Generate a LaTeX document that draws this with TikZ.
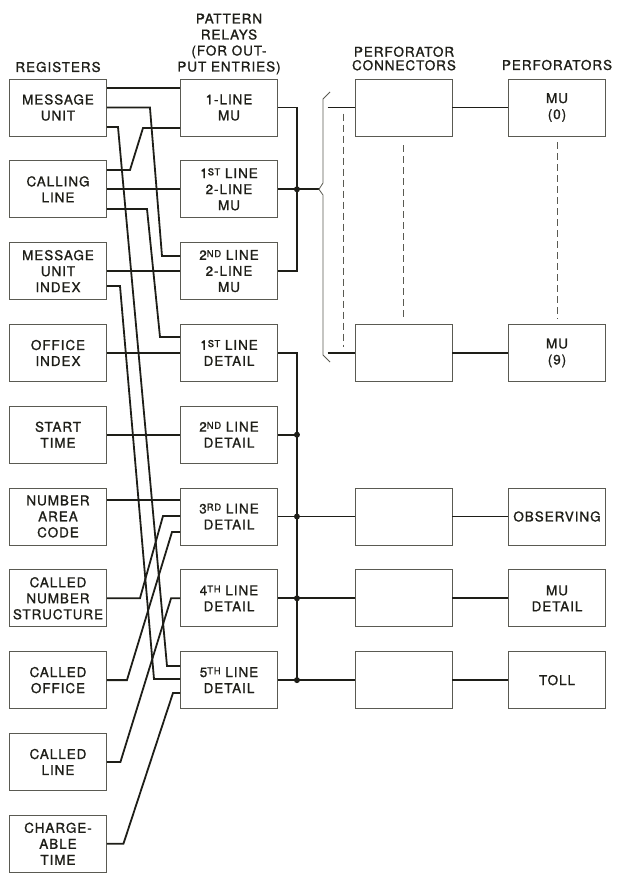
\documentclass[tikz,border=0pt]{standalone}
\usepackage{fontspec}
\setmainfont{TeX Gyre Heros}[LetterSpace=7,FakeBold=1.2]
\usetikzlibrary{arrows,positioning}
\definecolor{ink}{RGB}{30,30,24}
\definecolor{edge}{RGB}{90,90,82}
\tikzstyle{box}=[draw=edge,line width=0.9pt,minimum width=97pt,minimum height=57pt,inner sep=1pt,align=center,text=ink,font=\fontsize{13.5}{16}\selectfont]
\tikzstyle{head}=[align=center,inner sep=0pt,text=ink,font=\fontsize{13.5}{16}\selectfont]
\tikzstyle{wire}=[draw=ink,line width=1.8pt]
\tikzstyle{braceline}=[draw=edge,line width=0.8pt]
\tikzstyle{dashline}=[draw=edge,line width=0.8pt,dash pattern=on 7pt off 4pt]
\tikzstyle{dot}=[circle,fill=ink,inner sep=0pt,minimum size=6pt]
\newcommand{\ordsup}[1]{\raisebox{2.8pt}{\fontsize{9.5}{9.5}\selectfont #1}}

\begin{document}
\begin{tikzpicture}[x=1pt,y=-1pt,node distance=81.8pt]
    \useasboundingbox (0,0) rectangle (619,873);

    \node[box] (R1)                 at (58,107.5) {MESSAGE\\UNIT};
    \node[box] (R2)  [below of=R1]  {CALLING\\LINE};
    \node[box] (R3)  [below of=R2]  {MESSAGE\\UNIT\\INDEX};
    \node[box] (R4)  [below of=R3]  {OFFICE\\INDEX};
    \node[box] (R5)  [below of=R4]  {START\\TIME};
    \node[box] (R6)  [below of=R5]  {NUMBER\\AREA\\CODE};
    \node[box] (R7)  [below of=R6]  {CALLED\\NUMBER\\STRUCTURE};
    \node[box] (R8)  [below of=R7]  {CALLED\\OFFICE};
    \node[box] (R9)  [below of=R8]  {CALLED\\LINE};
    \node[box] (R10) [below of=R9]  {CHARGE-\\ABLE\\TIME};

    \begin{scope}[node distance=171pt]
    \node[box] (P1) [right of=R1] {1-LINE\\MU};
    \node[box] (P2) [right of=R2] {1\ordsup{ST} LINE\\2-LINE\\MU};
    \node[box] (P3) [right of=R3] {2\ordsup{ND} LINE\\2-LINE\\MU};
    \node[box] (P4) [right of=R4] {1\ordsup{ST} LINE\\DETAIL};
    \node[box] (P5) [right of=R5] {2\ordsup{ND} LINE\\DETAIL};
    \node[box] (P6) [right of=R6] {3\ordsup{RD} LINE\\DETAIL};
    \node[box] (P7) [right of=R7] {4\ordsup{TH} LINE\\DETAIL};
    \node[box] (P8) [right of=R8] {5\ordsup{TH} LINE\\DETAIL};
    \end{scope}

    \begin{scope}[node distance=174.5pt]
    \node[box] (C1) [right of=P1] {};
    \node[box] (C4) [right of=P4] {};
    \node[box] (C6) [right of=P6] {};
    \node[box] (C7) [right of=P7] {};
    \node[box] (C8) [right of=P8] {};
    \end{scope}

    \begin{scope}[node distance=153.5pt]
    \node[box] (F1) [right of=C1] {MU\\(0)};
    \node[box] (F4) [right of=C4] {MU\\(9)};
    \node[box] (F6) [right of=C6] {OBSERVING};
    \node[box] (F7) [right of=C7] {MU\\DETAIL};
    \node[box] (F8) [right of=C8] {TOLL};
    \end{scope}

    \node[head] (hR) at (58,67) {REGISTERS};
    \node[head] (hP) at (229,44) {PATTERN\\RELAYS\\(FOR OUT-\\PUT ENTRIES)};
    \node[head,font=\fontsize{13.5}{13.5}\selectfont] (hC) at (404,58.5) {PERFORATOR\\CONNECTORS};
    \node[head] (hF) at (557,65) {PERFORATORS};

    % registers to pattern relays
    \draw[wire] (R1.east |- 0,88) -- (P1.west |- 0,88);
    \draw[wire] (R2.east |- 0,170) -- (130,170) -- (143,128) -- (P1.west |- 0,128);
    \draw[wire] (R1.east) -- ++(43,0) -- (162,256) -- (P3.west |- 0,256);
    \draw[wire] (R2.east) -- (P2.west);
    \draw[wire] (R2.east |- 0,209) -- (147,209) -- (160,337) -- (P4.west |- 0,337);
    \draw[wire] (R1.east |- 0,127) -- (118,127) -- (167,666) -- (P8.west |- 0,666);
    \draw[wire] (R3.east) -- (P3.west);
    \draw[wire] (R3.east |- 0,286) -- (120,286) -- (154,679) -- (P8.west |- 0,679);
    \draw[wire] (R4.east) -- (P4.west);
    \draw[wire] (R5.east) -- (P5.west);
    \draw[wire] (R6.east |- 0,500) -- (P6.west |- 0,500);
    \draw[wire] (R7.east) -- ++(33,0) -- (163,516) -- (P6.west |- 0,516);
    \draw[wire] (R8.east) -- ++(20,0) -- (172,532) -- (P6.west |- 0,532);
    \draw[wire] (R9.east) -- ++(13.5,0) -- ([xshift=-9pt]P7.west) -- (P7.west);
    \draw[wire] (R10.east) -- ++(16.5,0) -- (173,693) -- (P8.west |- 0,693);

    % pattern relays to connectors
    \coordinate (bus) at ([xshift=19pt]P1.east);
    \coordinate (tip) at ([xshift=41pt]P2.east);
    \draw[wire] (P1.east) -| (bus |- P3.east) -- (P3.east);
    \draw[wire] (P2.east) -- (tip);
    \draw[wire] (P4.east) -| (bus |- P8.east);
    \draw[wire] (P5.east) -- (bus |- P5.east);
    \draw[wire] (P6.east) -- (C6.west);
    \draw[wire] (P7.east) -- (C7.west);
    \draw[wire] (P8.east) -- (C8.west);
    \node[dot] (d2) at (bus |- P2.east) {};
    \node[dot] (d5) at (bus |- P5.east) {};
    \node[dot] (d6) at (bus |- P6.east) {};
    \node[dot] (d7) at (bus |- P7.east) {};
    \node[dot] (d8) at (bus |- P8.east) {};

    \draw[braceline] (330,92) -- (323,99) -- (323,183) -- (tip) -- (323,195) -- (323,355) -- (330,362);
    \draw[wire] ([xshift=-27pt]C1.west) -- (C1.west);
    \draw[wire] ([xshift=-27pt]C4.west) -- (C4.west);
    \draw[dashline,shorten <=6pt,shorten >=6pt] ([xshift=-11pt]C1.west) -- ([xshift=-11pt]C4.west);
    \draw[dashline,shorten <=9pt,shorten >=4pt] (C1.south) -- (C4.north);
    \draw[dashline,shorten <=6pt,shorten >=5pt] (F1.south) -- (F4.north);

    % connectors to perforators
    \draw[wire] (C1.east) -- (F1.west);
    \draw[wire] (C4.east) -- (F4.west);
    \draw[wire] (C6.east) -- (F6.west);
    \draw[wire] (C7.east) -- (F7.west);
    \draw[wire] (C8.east) -- (F8.west);

\end{tikzpicture}
\end{document}
